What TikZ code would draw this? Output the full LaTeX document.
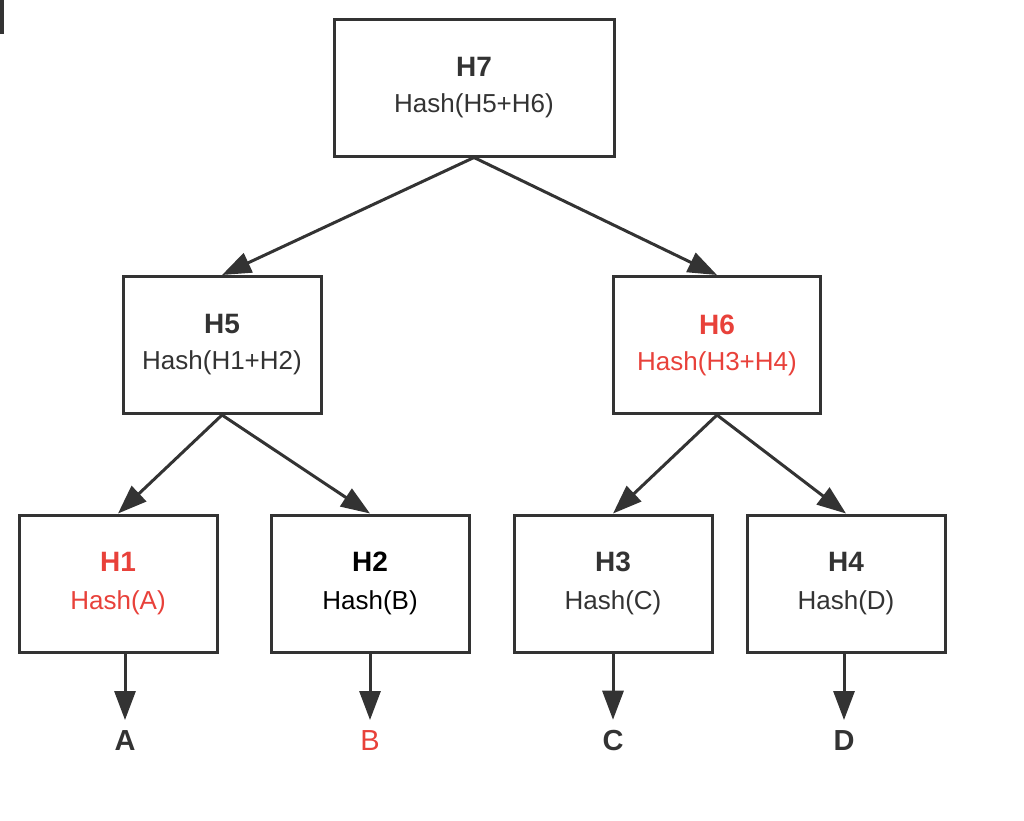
\documentclass[tikz,border=0pt]{standalone}
\usepackage{fontspec}
\setmainfont{Liberation Sans}
\usetikzlibrary{arrows.meta}
\definecolor{ink}{HTML}{333333}
\definecolor{hred}{RGB}{232,65,58}
\newcommand{\ttlfont}{\fontsize{28}{30}\selectfont\bfseries}
\begin{document}
\begin{tikzpicture}[x=1pt,y=-1pt,
  box/.style={draw=ink, line width=3pt, rectangle, minimum height=137pt, minimum width=198pt,
    align=center, inner sep=0pt, font=\fontsize{26}{30}\selectfont, text=ink},
  arr/.style={draw=ink, line width=3pt, -{Triangle[length=29pt,width=21pt]}},
  leaf/.style={font=\fontsize{29}{34}\selectfont\bfseries, text=ink, inner sep=11pt, outer sep=0pt}]
\useasboundingbox (0,0) rectangle (1024,820);
\draw[draw=ink, line width=3.5pt] (1.75,0) -- (1.75,34);
% boxes
\node[box, minimum width=280pt] (h7) at (474,87.5) {{\ttlfont H7}\\[6pt]Hash(H5+H6)};
\node[box] (h5) at (222,345) {{\ttlfont H5}\\[6pt]Hash(H1+H2)};
\node[box, minimum width=207pt, text=hred] (h6) at (717,345) {{\ttlfont H6}\\[6pt]Hash(H3+H4)};
\node[box, text=hred] (h1) at (118,583.5) {{\ttlfont H1}\\[8pt]Hash(A)};
\node[box, text=black] (h2) at (370,583.5) {{\ttlfont H2}\\[8pt]Hash(B)};
\node[box] (h3) at (613,583.5) {{\ttlfont H3}\\[8pt]Hash(C)};
\node[box] (h4) at (846,583.5) {{\ttlfont H4}\\[8pt]Hash(D)};
% leaves
\node[leaf] (la) at (125,741) {A};
\node[leaf, text=hred, font=\fontsize{29}{34}\selectfont] (lb) at (370,741) {B};
\node[leaf] (lc) at (613,741) {C};
\node[leaf] (ld) at (844,741) {D};
% connectors
\draw[arr] (h7.south) -- (h5.north);
\draw[arr] (h7.south) -- (h6.north);
\draw[arr] (h5.south) -- (h1.north);
\draw[arr] (h5.south) -- (h2.north);
\draw[arr] (h6.south) -- (h3.north);
\draw[arr] (h6.south) -- (h4.north);
\draw[arr] (la.north |- h1.south) -- (la.north);
\draw[arr] (h2.south) -- (lb.north);
\draw[arr] (h3.south) -- (lc.north);
\draw[arr] (ld.north |- h4.south) -- (ld.north);
\end{tikzpicture}
\end{document}
